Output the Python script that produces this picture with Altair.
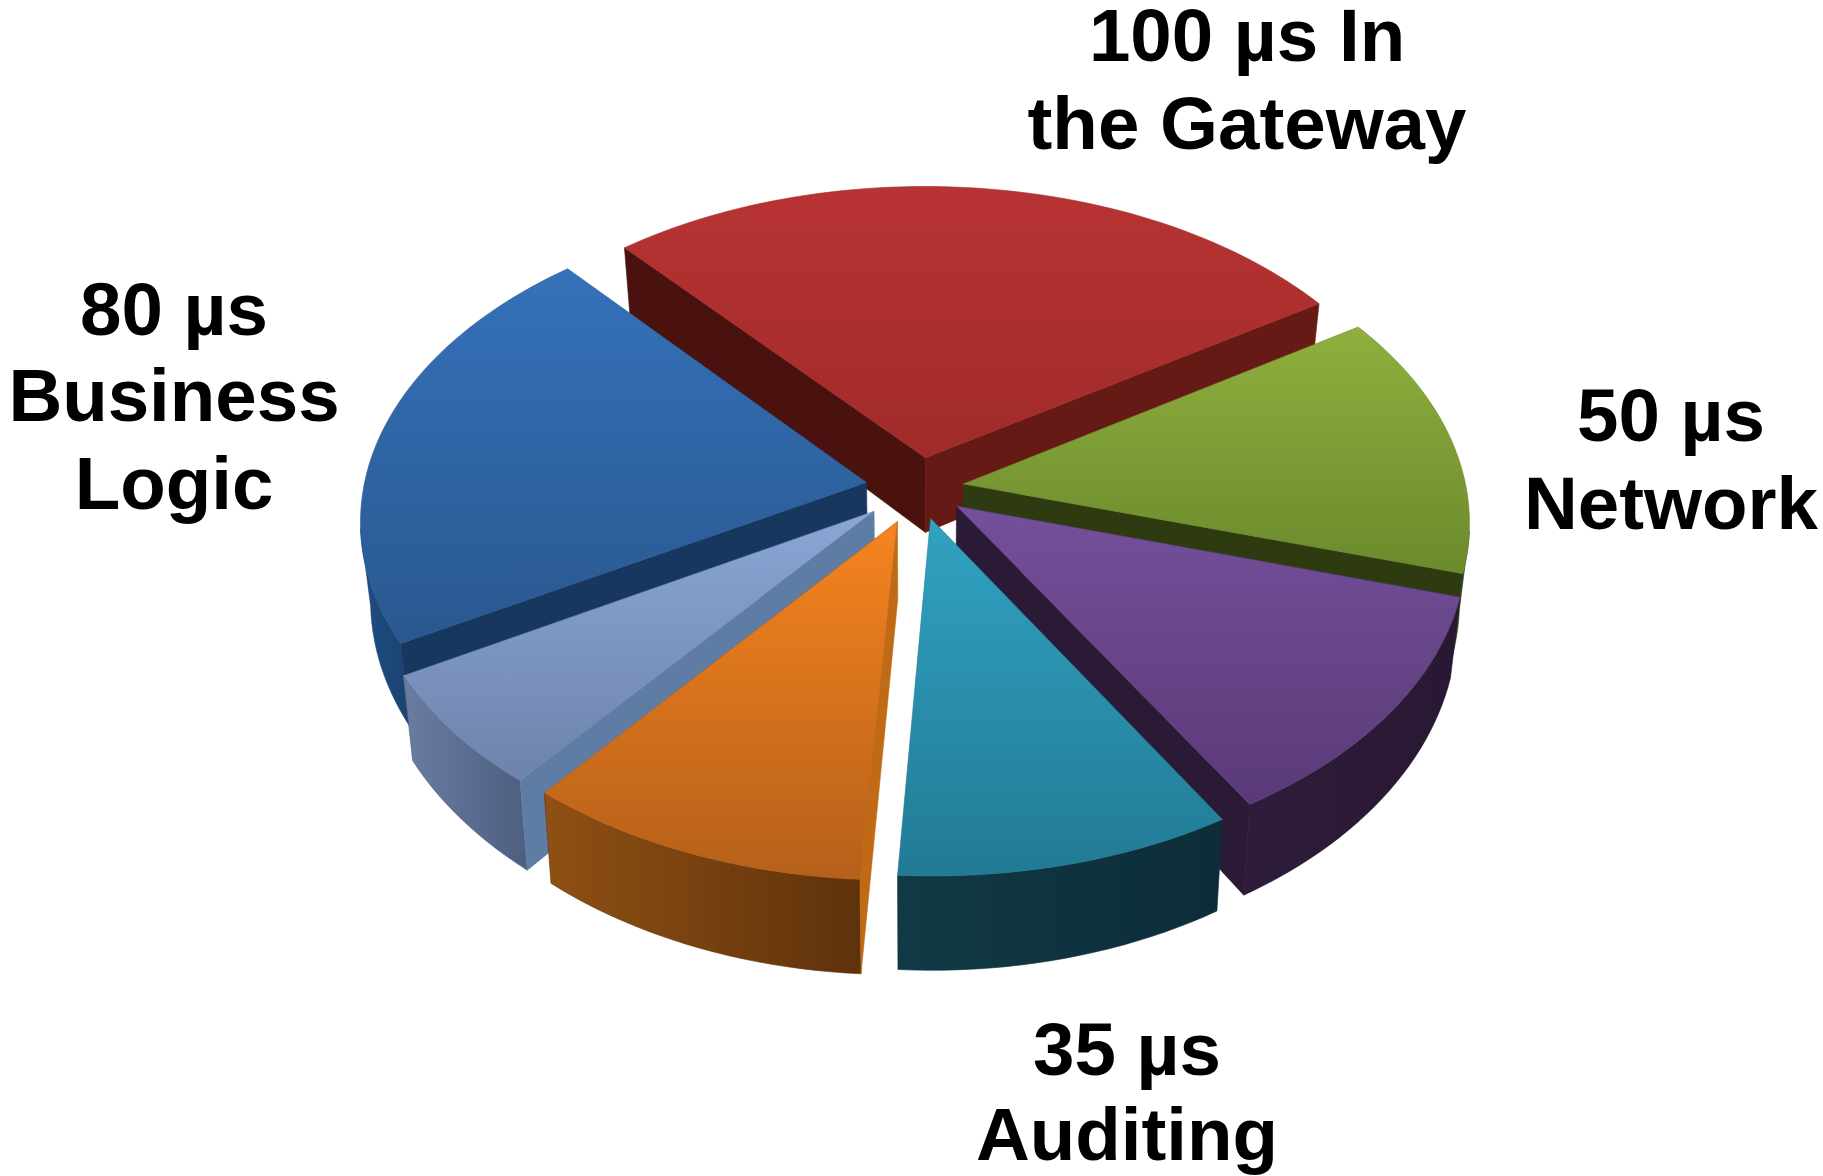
import math
import altair as alt

# Segments around the pie, clockwise from the rear left.
names = ["Gateway", "Network", "Unlabelled A", "Auditing", "Unlabelled B", "Unlabelled C", "Business Logic"]
values = [100, 50, 43.5, 35, 36, 22, 80]
explode = [0.10, 0.09, 0.095, 0.10, 0.115, 0.115, 0.105]
top_colors = [("#B83333", "#A02B29"), ("#8FAF3E", "#6B8A2C"), ("#74509B", "#593A77"),
              ("#31A2C2", "#227A94"), ("#F6841F", "#B5601A"), ("#8BA6D6", "#6D83AB"),
              ("#3571BA", "#29588F")]
start_wall = ["#4A120E", "#2E3A10", "#2A1A35", "#14343F", "#C06A15", "#5F7CA5", "#17375F"]
end_wall = ["#651A15", "#2E3A10", "#2A1A35", "#14343F", "#8B4D12", "#5F7CA5", "#17375F"]
outer_wall = [("#651A15", "#4A120E"), ("#3A4A14", "#2E3A10"), ("#2E1D3A", "#281833"),
              ("#103A46", "#0D2C38"), ("#8F5013", "#5F320C"), ("#6A7EA2", "#4D5E80"),
              ("#1F4C82", "#1B4372")]
paint_order = [0, 1, 6, 2, 5, 4, 3]

label_lines = [("100 µs In", 1247, 61), ("the Gateway", 1247, 149),
               ("80 µs", 174, 335), ("Business", 174, 421), ("Logic", 174, 509),
               ("50 µs", 1671, 441), ("Network", 1671, 529),
               ("35 µs", 1127, 1075), ("Auditing", 1127, 1160)]

CENTER_X, CENTER_Y = 918.5, 488.0
SCALE_X, SCALE_Y, THICKNESS = 503.0, 309.0, 76.0
PERSPECTIVE = 0.115
START_DEG = -41.0


def top_point(x, y):
    w = 1 + PERSPECTIVE * y
    return [CENTER_X + SCALE_X * x / w, CENTER_Y - SCALE_Y * y / w]


def bottom_point(x, y):
    w = 1 + PERSPECTIVE * y
    sx, sy = top_point(x, y)
    return [CENTER_X + (sx - CENTER_X) * 0.982, sy + THICKNESS / w ** 1.6]


def polygon(points):
    ring = [[round(a, 2), round(b, 2)] for a, b in points]
    ring.append(ring[0])
    return {"type": "Feature", "properties": {}, "geometry": {"type": "Polygon", "coordinates": [ring]}}


def face(points, c0, c1=None, horizontal=False):
    if c1 is None:
        fill = c0
    else:
        fill = alt.Gradient(
            gradient="linear",
            stops=[alt.GradientStop(color=c0, offset=0), alt.GradientStop(color=c1, offset=1)],
            x1=0, y1=0, x2=1 if horizontal else 0, y2=0 if horizontal else 1,
        )
    return alt.Chart(alt.InlineData(values=[polygon(points)])).mark_geoshape(
        fill=fill, stroke=c1 or c0, strokeWidth=0.6, strokeJoin="round"
    ).project(type="identity", scale=1, translate=[0, 0])


def faces_viewer(normal, origin):
    # The viewer sits in front of the pie, on its centre line.
    to_viewer = (-origin[0], -1 / PERSPECTIVE - origin[1])
    return normal[0] * to_viewer[0] + normal[1] * to_viewer[1] > 0


total = sum(values)
edges = [START_DEG]
for v in values:
    edges.append(edges[-1] + 360 * v / total)

layers = []
for i in paint_order:
    a0, a1 = math.radians(edges[i]), math.radians(edges[i + 1])
    mid = (a0 + a1) / 2
    ox, oy = explode[i] * math.sin(mid), explode[i] * math.cos(mid)
    n = max(12, int((edges[i + 1] - edges[i]) / 1.5))
    angles = [a0 + (a1 - a0) * t / n for t in range(n + 1)]
    arc = [(ox + math.sin(a), oy + math.cos(a)) for a in angles]
    tops = [top_point(*p) for p in arc]
    bottoms = [bottom_point(*p) for p in arc]
    apex_top, apex_bottom = top_point(ox, oy), bottom_point(ox, oy)

    # Rim first, then whichever cut faces look towards the viewer, then the lid.
    visible = [k for k, a in enumerate(angles) if faces_viewer((math.sin(a), math.cos(a)), arc[k])]
    if len(visible) >= 2:
        rim_top = [tops[k] for k in visible]
        rim_bottom = [bottoms[k] for k in visible]
        layers.append(face(rim_top + rim_bottom[::-1], outer_wall[i][0], outer_wall[i][1], horizontal=True))
    if faces_viewer((-math.cos(a0), math.sin(a0)), (ox, oy)):
        layers.append(face([apex_top, tops[0], bottoms[0], apex_bottom], start_wall[i]))
    if faces_viewer((math.cos(a1), -math.sin(a1)), (ox, oy)):
        layers.append(face([apex_top, tops[-1], bottoms[-1], apex_bottom], end_wall[i]))
    layers.append(face([apex_top] + tops, top_colors[i][0], top_colors[i][1]))

for line, x, y in label_lines:
    layers.append(
        alt.Chart(alt.InlineData(values=[{"label": line}])).mark_text(
            font="Liberation Sans", fontWeight="bold", fontSize=74.5, color="black",
            align="center", baseline="alphabetic",
        ).encode(text="label:N", x=alt.value(x), y=alt.value(y))
    )

chart = alt.layer(*layers).properties(
    width=1823, height=1176, padding=0, autosize=alt.AutoSizeParams(type="none"), background="white"
).configure_view(stroke=None)

chart.save("out.html", embed_options={"renderer": "svg", "actions": False})
